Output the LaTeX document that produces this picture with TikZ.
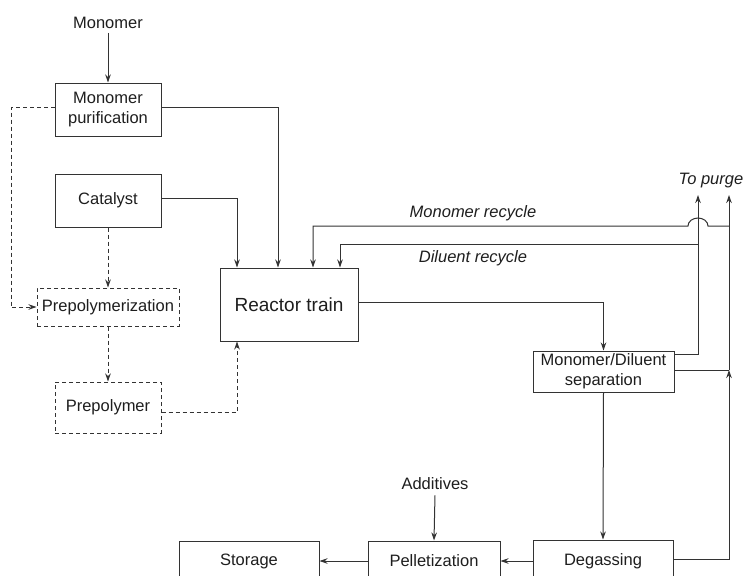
\documentclass[tikz,border=0pt]{standalone}
\usepackage{fontspec}
\setmainfont{Liberation Sans}
\usetikzlibrary{arrows.meta,calc}
\definecolor{ln}{HTML}{333333}
\definecolor{tx}{HTML}{1E1E1E}
\tikzset{
  box/.style={draw=ln, line width=1pt, inner sep=0pt, align=center, text=tx,
    font=\fontsize{16.5}{20}\selectfont},
  dbox/.style={box, dash pattern=on 4pt off 3pt},
  lbl/.style={inner sep=0pt, text=tx, font=\fontsize{16.5}{20}\selectfont},
  ilbl/.style={lbl, font=\fontsize{16.5}{20}\selectfont\itshape},
  conn/.style={draw=ln, line width=1pt},
  arr/.style={conn, -{Stealth[length=8pt,width=5.5pt]}},
  darr/.style={arr, dash pattern=on 4pt off 3pt},
}
\begin{document}
\begin{tikzpicture}[x=1pt,y=-1pt]
\path[use as bounding box, clip] (0,0) rectangle (745,576);
\fill[white] (0,0) rectangle (745,576);

% nodes
\node[lbl] (mono) at (108,23) {Monomer};
\node[box, minimum width=106pt, minimum height=53pt] (mp) at (108,109.5) {Monomer\\purification};
\node[box, minimum width=106pt, minimum height=53pt] (cat) at (108,200.5) {Catalyst};
\node[dbox, minimum width=142pt, minimum height=38pt] (prepz) at (108,307) {Prepolymerization};
\node[dbox, minimum width=106pt, minimum height=51pt] (prep) at (108,407.5) {Prepolymer};
\node[box, minimum width=138pt, minimum height=73pt, font=\fontsize{19}{22}\selectfont] (reac) at (289,304.5) {Reactor train};
\node[box, minimum width=141pt, minimum height=41pt] (sep) at (603.5,371.5) {Monomer/Diluent\\separation};
\node[box, minimum width=140pt, minimum height=42pt] (deg) at (603,561) {Degassing};
\node[box, minimum width=132pt, minimum height=40pt] (pel) at (434,561) {Pelletization};
\node[box, minimum width=140pt, minimum height=40pt] (sto) at (249,561) {Storage};
\node[lbl] (add) at (435,484) {Additives};
\node[ilbl] (purge) at (711,181) {To purge};
\node[ilbl] (mrl) at (473,213) {Monomer recycle};
\node[ilbl] (drl) at (473,258) {Diluent recycle};

% helper coordinates
\coordinate (p1) at (698,195);
\coordinate (p2) at (729,195);
\coordinate (jsep) at (729,370);
\coordinate (jm) at (729,226);
\coordinate (hr) at (708,226);
\coordinate (jd) at (698,244);
\coordinate (dl) at (11,107);

% solid connectors
\draw[arr] (mono.south) ++(0,-4pt) -- (mp.north);
\draw[arr] ([yshift=2.5pt]mp.east) -| ([xshift=-11pt]reac.north);
\draw[arr] ([yshift=2.5pt]cat.east) -| ([xshift=-52pt]reac.north);
\draw[arr] (jm) -- (hr) arc[start angle=0, end angle=-180, x radius=10, y radius=8] -| ([xshift=24pt]reac.north);
\draw[arr] (jd) -| ([xshift=51pt]reac.north);
\draw[arr] ([yshift=2.5pt]reac.east) -| (sep.north);
\draw[arr] ([yshift=17.5pt]sep.east) -| (p1);
\draw[conn] ([yshift=1.5pt]sep.east) -- (jsep);
\draw[arr] (jsep) -- (p2);
\draw[arr] ([yshift=2pt]deg.east) -| (jsep);
\draw[arr] (sep.south) -- (deg.north);
\draw[arr] (deg.west) -- (pel.east);
\draw[arr] (pel.west) -- (sto.east);
\draw[arr] (add.south) ++(0,-5pt) -- (pel.north);

% dashed connectors
\draw[darr] ([yshift=2.5pt]mp.west) -- (dl) |- (prepz.west);
\draw[darr] (cat.south) -- (prepz.north);
\draw[darr] (prepz.south) -- (prep.north);
\draw[darr] ([yshift=-4.5pt]prep.east) -| ([xshift=-52pt]reac.south);
\end{tikzpicture}
\end{document}
